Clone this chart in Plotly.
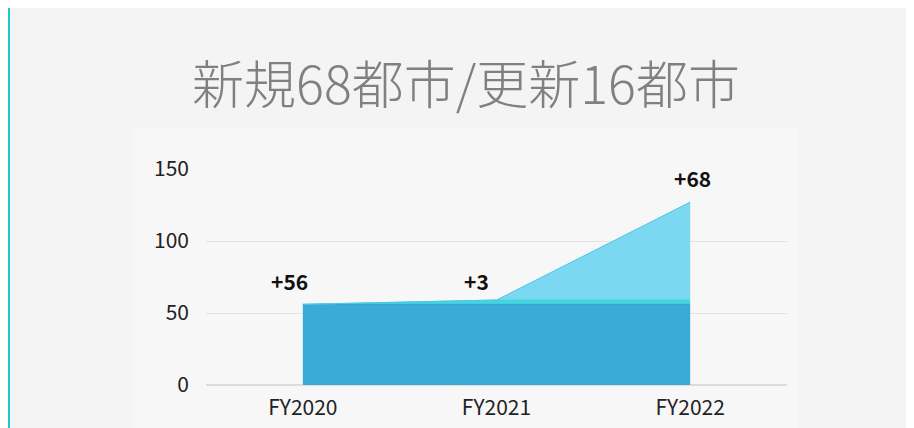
import plotly.graph_objects as go

categories = ["FY2020", "FY2021", "FY2022"]
base_cities = [56, 56, 56]
fy2021_added = [0, 3, 3]
fy2022_added = [0, 0, 68]
increment_labels = ["+56", "+3", "+68"]
title_text = "新規68都市/更新16都市"
y_ticks = [0, 50, 100, 150]

# page is offset by the 8px body margin
OFF = 8
W, H = 914 - OFF, 428 - OFF
L, R, T, B = 206 - OFF, 127, 169 - OFF, 43
pw, ph = W - L - R, H - T - B

def px_x(p):
    return (p - OFF - L) / pw

def px_y(p):
    return (H + OFF - B - p) / ph

fig = go.Figure()
series = [
    (base_cities, "#3aaad7", "#2f9fcf"),
    (fy2021_added, "#45d5de", "#45d5de"),
    (fy2022_added, "#7bd8f0", "#4cc6ea"),
]
for vals, fillc, linec in series:
    fig.add_trace(go.Scatter(
        x=categories, y=vals, stackgroup="one", mode="lines",
        line=dict(color=linec, width=1), fillcolor=fillc,
        hoverinfo="skip", showlegend=False,
    ))

tops = [base_cities[i] + fy2021_added[i] + fy2022_added[i] for i in range(3)]
xshifts = [-13, -20, 2]
yshifts = [23, 19, 24]
for i, lab in enumerate(increment_labels):
    fig.add_annotation(
        x=categories[i], y=tops[i], text=lab, showarrow=False,
        xshift=xshifts[i], yshift=yshifts[i],
        font=dict(family="Noto Sans CJK JP", size=21, color="#111111", weight="bold"),
    )

shapes = [
    dict(type="rect", xref="paper", yref="paper", x0=px_x(132), x1=px_x(798),
         y0=px_y(428), y1=px_y(129), fillcolor="#f7f7f7", line_width=0, layer="below"),
    dict(type="rect", xref="paper", yref="paper", x0=px_x(OFF), x1=px_x(OFF + 2),
         y0=px_y(428), y1=px_y(OFF), fillcolor="#1cc8c8", line_width=0, layer="below"),
]

fig.update_layout(
    width=W, height=H,
    margin=dict(l=L, r=R, t=T, b=B, pad=0, autoexpand=False),
    paper_bgcolor="#f4f4f4", plot_bgcolor="rgba(0,0,0,0)",
    shapes=shapes,
    title=dict(text=title_text, x=(466 - OFF) / W, xanchor="center",
               y=1 - (86 - OFF) / H, yanchor="middle", automargin=False,
               font=dict(family="Noto Sans CJK JP", size=52, color="#808080", weight=300)),
    font=dict(family="Noto Sans CJK JP", size=21, color="#222222"),
)
fig.update_xaxes(range=[-0.5, 2.5], showgrid=False, showline=False, ticks="", automargin=False,
                 tickfont=dict(size=21, color="#222222"), ticklabelstandoff=8)
fig.update_yaxes(range=[0, 150], tickvals=y_ticks, showgrid=True, gridcolor="#e3e3e3", automargin=False,
                 zeroline=True, zerolinecolor="#dcdcdc", zerolinewidth=1.5, showline=False, ticks="",
                 tickfont=dict(size=21, color="#222222"), ticklabelstandoff=16)

fig.write_html("out.html")
